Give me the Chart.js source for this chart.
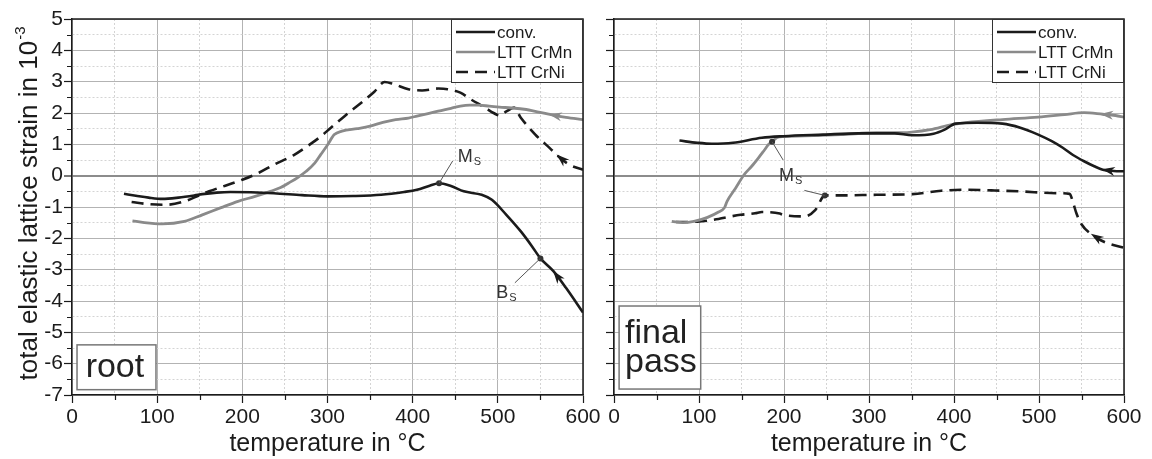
<!DOCTYPE html>
<html>
<head>
<meta charset="utf-8">
<script src="https://cdn.jsdelivr.net/npm/chart.js@4.4.1/dist/chart.umd.min.js"></script>
<style>
  body { margin: 0; background: #fff; }
  #wrap { position: relative; width: 1152px; height: 459px; overflow: hidden; }
  canvas { position: absolute; top: 0; }
  #rootChart { left: 0; }
  #finalChart { left: 590px; }
</style>
</head>
<body>
<div id="wrap">
  <canvas id="rootChart" width="600" height="459"></canvas>
  <canvas id="finalChart" width="562" height="459"></canvas>
</div>
<script>
// root pass, temperature (°C) and strain (10^-3)
const convRootT = [61, 75, 90, 106, 125, 144, 153, 170, 186, 210, 237, 270, 300, 330, 363, 390, 405, 420, 431, 445, 460, 481, 493, 510, 527, 540, 550, 565, 580, 600];
const convRootV = [-0.58, -0.64, -0.70, -0.74, -0.70, -0.63, -0.59, -0.54, -0.52, -0.53, -0.56, -0.62, -0.66, -0.65, -0.61, -0.52, -0.45, -0.32, -0.24, -0.33, -0.50, -0.61, -0.77, -1.25, -1.78, -2.25, -2.64, -3.04, -3.58, -4.37];
const crmnRootT = [71, 85, 106, 132, 153, 175, 195, 215, 233, 245, 254, 265, 275, 285, 292, 300, 308, 317, 335, 350, 365, 380, 395, 405, 418, 430, 445, 456, 467, 477, 490, 502, 516, 531, 548, 565, 580, 600];
const crmnRootV = [-1.44, -1.50, -1.54, -1.46, -1.25, -1.02, -0.82, -0.66, -0.50, -0.38, -0.24, -0.06, 0.14, 0.40, 0.67, 0.98, 1.31, 1.42, 1.50, 1.58, 1.70, 1.79, 1.84, 1.90, 1.98, 2.06, 2.15, 2.22, 2.25, 2.25, 2.22, 2.19, 2.16, 2.12, 2.03, 1.93, 1.86, 1.79];
const crniRootT = [70, 90, 110, 132, 150, 161, 180, 200, 220, 237, 260, 279, 292, 304, 320, 342, 355, 367, 378, 395, 411, 430, 441, 456, 468, 485, 495, 502, 510, 519, 527, 544, 561, 573, 584, 600];
const crniRootV = [-0.84, -0.91, -0.93, -0.82, -0.62, -0.50, -0.32, -0.13, 0.10, 0.35, 0.65, 0.99, 1.25, 1.53, 1.90, 2.38, 2.68, 2.99, 2.92, 2.76, 2.72, 2.78, 2.76, 2.65, 2.44, 2.17, 2.00, 1.92, 2.05, 2.17, 1.85, 1.31, 0.88, 0.57, 0.35, 0.19];
// Ms / Bs points on the conv. curve
const transRootT = [431, 550];
const transRootV = [-0.24, -2.64];

// final pass
const convFinalT = [77, 98, 115, 140, 174, 199, 246, 288, 330, 351, 376, 389, 402, 427, 457, 478, 499, 515, 528, 540, 553, 565, 575, 588, 600];
const convFinalV = [1.12, 1.05, 1.02, 1.05, 1.21, 1.26, 1.31, 1.35, 1.35, 1.29, 1.34, 1.47, 1.66, 1.69, 1.66, 1.53, 1.31, 1.10, 0.89, 0.66, 0.46, 0.30, 0.19, 0.15, 0.14];
const crmnFinalT = [68, 81, 94, 110, 123, 130, 133, 143, 153, 162, 170, 177, 182, 186, 192, 200, 224, 267, 309, 338, 372, 397, 414, 457, 499, 530, 553, 575, 590, 600];
const crmnFinalV = [-1.46, -1.50, -1.46, -1.33, -1.16, -1.02, -0.82, -0.40, 0.03, 0.30, 0.57, 0.82, 1.00, 1.08, 1.22, 1.25, 1.27, 1.31, 1.37, 1.37, 1.47, 1.63, 1.69, 1.79, 1.87, 1.95, 2.01, 1.96, 1.92, 1.87];
const crniFinalT = [73, 98, 123, 132, 149, 166, 174, 195, 199, 224, 237, 248, 267, 309, 351, 385, 414, 444, 478, 520, 536, 540, 544, 550, 562, 579, 600];
const crniFinalV = [-1.48, -1.47, -1.38, -1.33, -1.25, -1.20, -1.16, -1.21, -1.25, -1.30, -1.09, -0.63, -0.63, -0.61, -0.59, -0.48, -0.45, -0.47, -0.50, -0.56, -0.58, -0.85, -1.20, -1.55, -1.88, -2.14, -2.30];
// Ms points (LTT CrMn, LTT CrNi)
const transFinalT = [186, 248];
const transFinalV = [1.08, -0.63];

const FONT = '"Liberation Sans", Arial, Helvetica, sans-serif';
const INK = '#1b1b1b';
const GREY = '#8a8a8a';
const MAJOR = '#b3b3b3';
const MINOR = '#d4d4d4';

function pts(xs, ys) {
  return xs.map((x, i) => ({ x: x, y: ys[i] }));
}

function lerp(xs, ys, t) {
  for (let i = 0; i < xs.length - 1; i++) {
    if (t >= xs[i] && t <= xs[i + 1]) {
      const f = (t - xs[i]) / (xs[i + 1] - xs[i]);
      return ys[i] + f * (ys[i + 1] - ys[i]);
    }
  }
  return ys[ys.length - 1];
}

function isMajorX(v) { return v % 100 === 0; }
function isMajorY(v) { return Number.isInteger(v); }

// frame, minor ticks, arrows, Ms/Bs notes, legend box, panel tag
const decor = {
  id: 'decor',
  afterDatasetsDraw(chart, args, opts) {
    const { ctx, chartArea: a } = chart;
    const sx = chart.scales.x, sy = chart.scales.y;
    const px = (t) => sx.getPixelForValue(t);
    const py = (v) => sy.getPixelForValue(v);
    ctx.save();

    // top and right edge of the plot box
    ctx.strokeStyle = INK;
    ctx.lineWidth = 1.5;
    ctx.beginPath();
    ctx.moveTo(a.left, a.top);
    ctx.lineTo(a.right, a.top);
    ctx.lineTo(a.right, a.bottom);
    ctx.stroke();

    // short minor ticks
    ctx.lineWidth = 1.2;
    ctx.beginPath();
    sx.ticks.forEach((t) => {
      if (isMajorX(t.value)) return;
      const x = Math.round(px(t.value)) + 0.5;
      ctx.moveTo(x, a.bottom);
      ctx.lineTo(x, a.bottom + 5);
    });
    sy.ticks.forEach((t) => {
      if (isMajorY(t.value)) return;
      const y = Math.round(py(t.value)) + 0.5;
      ctx.moveTo(a.left, y);
      ctx.lineTo(a.left - 5, y);
    });
    ctx.stroke();

    // cooling direction arrows
    opts.arrows.forEach((ar) => {
      const ds = chart.data.datasets[ar.ds];
      const xs = ds.data.map((p) => p.x), ys = ds.data.map((p) => p.y);
      const tx = px(ar.t), ty = py(lerp(xs, ys, ar.t));
      const bx = px(ar.t + 6), by = py(lerp(xs, ys, ar.t + 6));
      let dx = tx - bx, dy = ty - by;
      const len = Math.hypot(dx, dy) || 1;
      dx /= len; dy /= len;
      const L = 13, W = 4.5;
      ctx.fillStyle = ds.borderColor;
      ctx.beginPath();
      ctx.moveTo(tx, ty);
      ctx.lineTo(tx - dx * L - dy * W, ty - dy * L + dx * W);
      ctx.lineTo(tx - dx * L * 0.7, ty - dy * L * 0.7);
      ctx.lineTo(tx - dx * L + dy * W, ty - dy * L - dx * W);
      ctx.closePath();
      ctx.fill();
    });

    // leader lines and labels
    ctx.strokeStyle = '#555';
    ctx.lineWidth = 1;
    opts.notes.forEach((n) => {
      n.leaders.forEach((l) => {
        ctx.beginPath();
        ctx.moveTo(px(l[0][0]), py(l[0][1]));
        ctx.lineTo(px(l[1][0]), py(l[1][1]));
        ctx.stroke();
      });
      ctx.fillStyle = '#333';
      ctx.textBaseline = 'alphabetic';
      ctx.textAlign = 'left';
      ctx.font = '18px ' + FONT;
      const lx = px(n.at[0]), ly = py(n.at[1]);
      ctx.fillText(n.text, lx, ly);
      const w = ctx.measureText(n.text).width;
      ctx.font = '11px ' + FONT;
      ctx.fillText(n.sub, lx + w + 1, ly + 3);
    });
    ctx.restore();
  },
  afterDraw(chart, args, opts) {
    const { ctx, chartArea: a } = chart;
    const sx = chart.scales.x, sy = chart.scales.y;
    ctx.save();

    // legend
    const lw = 132, lh = 64;
    const lx = a.right - lw, ly = a.top;
    ctx.fillStyle = '#fff';
    ctx.fillRect(lx, ly, lw, lh);
    ctx.strokeStyle = '#333';
    ctx.lineWidth = 1;
    ctx.strokeRect(lx + 0.5, ly + 0.5, lw - 1, lh - 1);
    const items = chart.data.datasets.filter((d) => d.label);
    items.forEach((d, i) => {
      const y = ly + 13 + i * 20;
      ctx.strokeStyle = d.borderColor;
      ctx.lineWidth = 2.6;
      ctx.setLineDash(d.borderDash || []);
      ctx.beginPath();
      ctx.moveTo(lx + 5, y);
      ctx.lineTo(lx + 44, y);
      ctx.stroke();
      ctx.setLineDash([]);
      ctx.fillStyle = INK;
      ctx.font = '17px ' + FONT;
      ctx.textBaseline = 'middle';
      ctx.textAlign = 'left';
      ctx.fillText(d.label, lx + 46, y + 1);
    });

    // panel tag
    const t = opts.tag;
    const bx0 = sx.getPixelForValue(t.box[0]), by0 = sy.getPixelForValue(t.box[1]);
    const bx1 = sx.getPixelForValue(t.box[2]), by1 = sy.getPixelForValue(t.box[3]);
    ctx.fillStyle = '#fff';
    ctx.fillRect(bx0, by0, bx1 - bx0, by1 - by0);
    ctx.strokeStyle = '#777';
    ctx.lineWidth = 1.5;
    ctx.strokeRect(bx0, by0, bx1 - bx0, by1 - by0);
    ctx.fillStyle = '#222';
    ctx.font = '34px ' + FONT;
    ctx.textBaseline = 'alphabetic';
    t.lines.forEach((s, i) => {
      ctx.fillText(s, sx.getPixelForValue(t.textT), sy.getPixelForValue(t.baselines[i]));
    });

    // rotated y title with exponent
    if (opts.yTitle) {
      ctx.translate(37, (a.top + a.bottom) / 2 - 3);
      ctx.rotate(-Math.PI / 2);
      ctx.font = '26px ' + FONT;
      const main = 'total elastic lattice strain in 10';
      const mw = ctx.measureText(main).width;
      ctx.font = '15px ' + FONT;
      const ew = ctx.measureText('-3').width;
      const x0 = -(mw + ew) / 2;
      ctx.font = '26px ' + FONT;
      ctx.textAlign = 'left';
      ctx.fillStyle = INK;
      ctx.fillText(main, x0, 0);
      ctx.font = '15px ' + FONT;
      ctx.fillText('-3', x0 + mw + 1, -12);
    }
    ctx.restore();
  }
};

function gridColor(ctx, isX) {
  if (!ctx.tick) return MAJOR;
  const v = ctx.tick.value;
  if (v === 0 && !isX) return '#8c8c8c';
  return (isX ? isMajorX(v) : isMajorY(v)) ? MAJOR : MINOR;
}

function makeChart(id, s, deco, withLabels, padLeftAxis, padRight) {
  return new Chart(document.getElementById(id), {
    type: 'line',
    data: {
      datasets: [
        { label: '', data: pts(s.markT, s.markV), showLine: false, pointRadius: 3, pointBackgroundColor: '#333', pointBorderWidth: 0 },
        { label: 'conv.', data: pts(s.convT, s.convV), borderColor: INK, borderWidth: 2.6 },
        { label: 'LTT CrMn', data: pts(s.crmnT, s.crmnV), borderColor: GREY, borderWidth: 2.8 },
        { label: 'LTT CrNi', data: pts(s.crniT, s.crniV), borderColor: INK, borderWidth: 2.6, borderDash: [12, 7] }
      ]
    },
    options: {
      responsive: false,
      devicePixelRatio: 1,
      animation: false,
      layout: { padding: { top: 19, right: padRight, left: 0, bottom: 0 } },
      elements: {
        point: { radius: 0 },
        line: { cubicInterpolationMode: 'monotone', fill: false }
      },
      plugins: {
        legend: { display: false },
        tooltip: { enabled: false },
        decor: deco
      },
      scales: {
        x: {
          type: 'linear', min: 0, max: 600,
          ticks: {
            stepSize: 50, autoSkip: false, maxRotation: 0, padding: 2, color: INK,
            font: { family: FONT, size: 21 },
            callback: (v) => (isMajorX(v) ? String(v) : '')
          },
          grid: {
            color: (c) => gridColor(c, true), lineWidth: 1, tickLength: 8, tickWidth: 1.2,
            tickColor: (c) => (c.tick && isMajorX(c.tick.value) ? INK : 'rgba(0,0,0,0)')
          },
          border: { color: INK, width: 1.5, dash: (c) => (c.tick && !isMajorX(c.tick.value) ? [2, 2] : []) },
          title: { display: true, text: 'temperature in °C', color: INK, font: { family: FONT, size: 25 }, padding: { top: 0, bottom: 0 } },
          afterFit: (sc) => { sc.height = 64; sc.paddingLeft = 0; sc.paddingRight = 0; }
        },
        y: {
          min: -7, max: 5,
          ticks: {
            stepSize: 0.5, autoSkip: false, padding: 1, color: INK,
            font: { family: FONT, size: 21 },
            callback: (v) => (withLabels && isMajorY(v) ? String(v) : '')
          },
          grid: {
            color: (c) => gridColor(c, false),
            lineWidth: (c) => (c.tick && c.tick.value === 0 ? 2 : 1),
            tickLength: 8, tickWidth: 1.2,
            tickColor: (c) => (c.tick && isMajorY(c.tick.value) ? INK : 'rgba(0,0,0,0)')
          },
          border: { color: INK, width: 1.5, dash: (c) => (c.tick && !isMajorY(c.tick.value) ? [2, 2] : []) },
          afterFit: (sc) => { sc.width = padLeftAxis; sc.paddingTop = 0; sc.paddingBottom = 0; }
        }
      }
    },
    plugins: [decor]
  });
}

makeChart('rootChart', {
  convT: convRootT, convV: convRootV,
  crmnT: crmnRootT, crmnV: crmnRootV,
  crniT: crniRootT, crniV: crniRootV,
  markT: transRootT, markV: transRootV
}, {
  yTitle: true,
  arrows: [{ ds: 1, t: 565 }, { ds: 2, t: 560 }, { ds: 3, t: 569 }],
  notes: [
    { text: 'M', sub: 'S', at: [453, 0.45], leaders: [[[447, 0.47], [431, -0.24]]] },
    { text: 'B', sub: 'S', at: [498, -3.89], leaders: [[[520, -3.42], [550, -2.64]]] }
  ],
  tag: { box: [5.9, -5.40, 98.6, -6.83], lines: ['root'], textT: 16, baselines: [-6.43] }
}, true, 72, 17);

makeChart('finalChart', {
  convT: convFinalT, convV: convFinalV,
  crmnT: crmnFinalT, crmnV: crmnFinalV,
  crniT: crniFinalT, crniV: crniFinalV,
  markT: transFinalT, markV: transFinalV
}, {
  yTitle: false,
  arrows: [{ ds: 1, t: 574 }, { ds: 2, t: 572 }, { ds: 3, t: 561 }],
  notes: [
    { text: 'M', sub: 'S', at: [194, -0.18], leaders: [[[199, 0.5], [186, 1.08]], [[224, -0.47], [248, -0.63]]] }
  ],
  tag: { box: [6, -4.16, 102, -6.81], lines: ['final', 'pass'], textT: 13, baselines: [-5.35, -6.27] }
}, false, 24, 28);
</script>
</body>
</html>
